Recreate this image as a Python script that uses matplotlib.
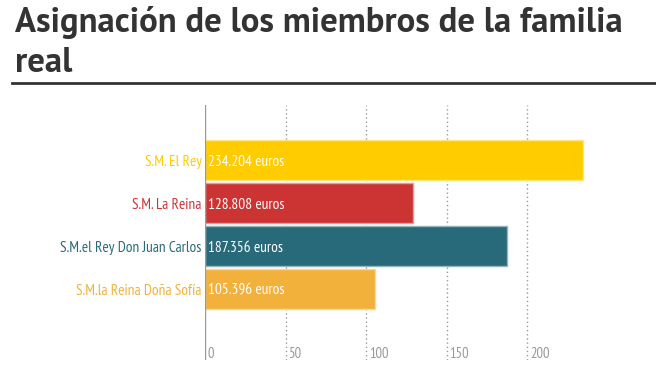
import matplotlib.pyplot as plt
from matplotlib.lines import Line2D
from matplotlib.transforms import blended_transform_factory

plt.rcParams["font.family"] = ["PT Sans Narrow", "Roboto Condensed", "DejaVu Sans"]

TITLE = "Asignación de los miembros de la familia\nreal"
members = ["S.M. El Rey", "S.M. La Reina", "S.M.el Rey Don Juan Carlos", "S.M.la Reina Doña Sofía"]
amounts = [234.204, 128.808, 187.356, 105.396]
value_labels = ["234.204 euros", "128.808 euros", "187.356 euros", "105.396 euros"]
colors = ["#FFCC00", "#CC3333", "#286A7A", "#F2B13A"]
edge_colors = ["#FFE680", "#E69999", "#93B4BC", "#F8D89C"]
ticks = [0, 50, 100, 150, 200]

fig = plt.figure(figsize=(6.56, 3.71), dpi=100)
ax = fig.add_axes([205 / 656, 11 / 371, 395 / 656, 255 / 371])

pos = list(range(len(members)))
ax.barh(pos, amounts, height=0.93, color=colors, edgecolor=edge_colors, linewidth=1, zorder=3)

ax.set_xlim(0, 245)
ax.set_ylim(4.65, -1.28)

trans = blended_transform_factory(ax.transData, ax.transAxes)
for t in ticks:
    if t == 0:
        ax.axvline(0, color="#999999", lw=1, zorder=4)
    else:
        ax.axvline(t, color="#999999", lw=1, ls=(0, (1, 2)), zorder=1)
    ax.text(t + 1.5, 0.025, str(t), transform=trans, ha="left", va="center",
            fontsize=10.5, color="#999999")

for p, m, lab, c in zip(pos, members, value_labels, colors):
    ax.text(-2, p, m, ha="right", va="center_baseline", fontsize=11, color=c)
    ax.text(2, p, lab, ha="left", va="center_baseline", fontsize=11, color="white", zorder=5)

ax.set_axis_off()

title_lines = TITLE.split("\n")
for line, base in zip(title_lines, [32, 72]):
    fig.text(15 / 656, 1 - base / 371, line, ha="left", va="baseline", fontsize=25,
             fontweight="bold", color="#333333", family=["PT Sans", "DejaVu Sans"])
fig.add_artist(Line2D([12 / 656, 1.0], [1 - 83 / 371] * 2, color="#333333", lw=2,
                      transform=fig.transFigure))

fig.savefig("out.png", dpi=100)
